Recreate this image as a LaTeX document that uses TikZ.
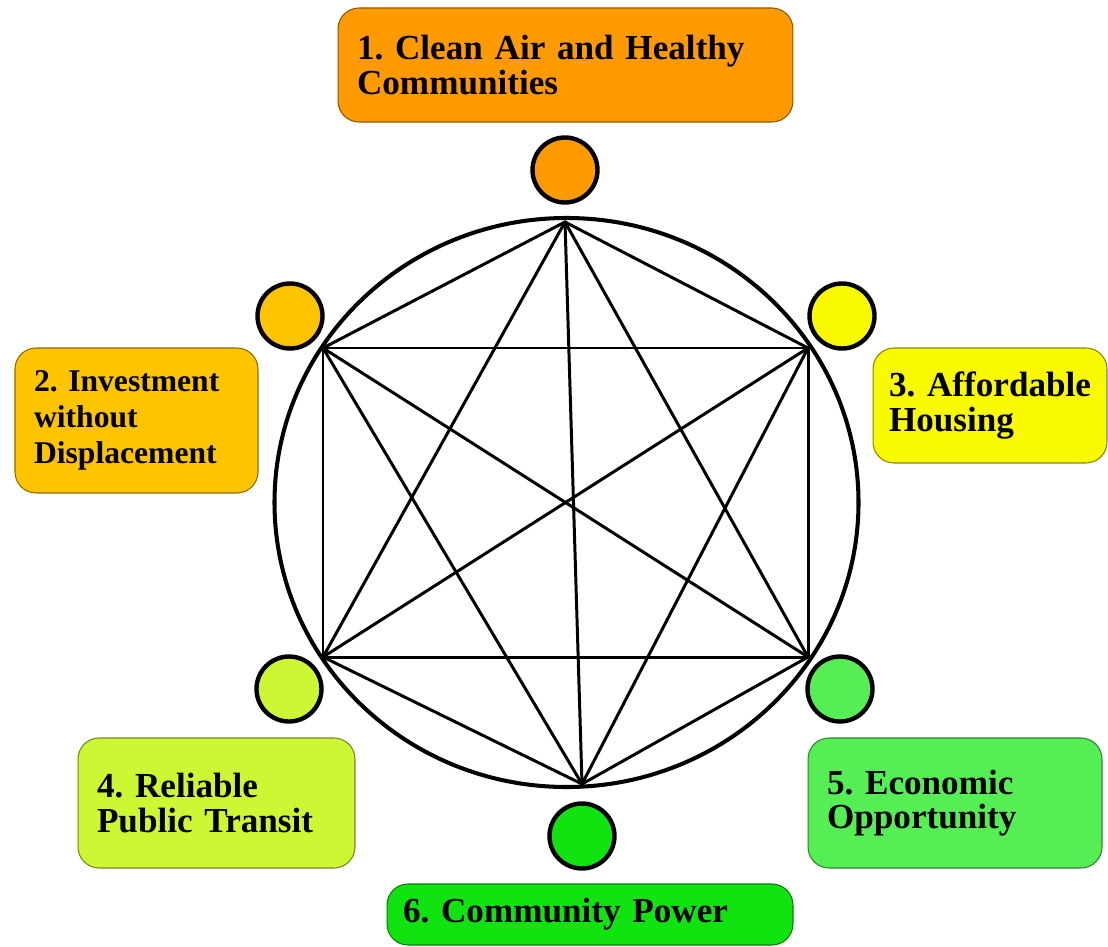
\documentclass[tikz,border=0pt]{standalone}
\usepackage{fontspec}
\setmainfont{Liberation Serif}
\usetikzlibrary{shapes.geometric}
\definecolor{orangeA}{HTML}{FF9A00}
\definecolor{gold}{HTML}{FFC400}
\definecolor{yellowA}{HTML}{F9F900}
\definecolor{lime}{HTML}{CDF733}
\definecolor{greenA}{HTML}{55EE55}
\definecolor{greenB}{HTML}{11E311}
\frenchspacing
\hyphenpenalty=10000
\tikzset{
  goal/.style={draw=#1!55!black, fill=#1, line width=0.6pt, rounded corners=0.42cm,
    inner xsep=0.38cm, inner ysep=0pt, align=left,
    font=\bfseries\fontsize{20pt}{19.6pt}\selectfont},
  dot/.style={circle, draw=black, fill=#1, line width=2.5pt, minimum size=1.3cm, inner sep=0pt}
}
\begin{document}
\begin{tikzpicture}[line cap=round,line join=round,x=0.02cm,y=-0.02cm]
  \useasboundingbox (0,0) rectangle (1108,946);
  % corners of the star
  \coordinate (v1) at (565,222);
  \coordinate (v2) at (323,348);
  \coordinate (v3) at (808,348);
  \coordinate (v4) at (323,657);
  \coordinate (v5) at (808,657);
  \coordinate (v6) at (582,784);
  \draw [line width=2.3pt] (566.5,502.5) ellipse [x radius=292, y radius=284.5];
  \draw [line width=1.7pt] (v1) -- (v2);
  \draw [line width=1.7pt] (v1) -- (v3);
  \draw [line width=1.7pt] (v1) -- (v4);
  \draw [line width=1.7pt] (v1) -- (v5);
  \draw [line width=1.7pt] (v1) -- (v6);
  \draw [line width=1.7pt] (v2) -- (v3);
  \draw [line width=1.7pt] (v2) -- (v4);
  \draw [line width=1.7pt] (v2) -- (v5);
  \draw [line width=1.7pt] (v2) -- (v6);
  \draw [line width=1.7pt] (v3) -- (v4);
  \draw [line width=1.7pt] (v3) -- (v5);
  \draw [line width=1.7pt] (v3) -- (v6);
  \draw [line width=1.7pt] (v4) -- (v5);
  \draw [line width=1.7pt] (v4) -- (v6);
  \draw [line width=1.7pt] (v5) -- (v6);
  % small dots
  \node [dot=orangeA] (c1) at (565,170) {};
  \node [dot=gold] (c2) at (290,316) {};
  \node [dot=yellowA] (c3) at (842,316) {};
  \node [dot=lime] (c4) at (289,689) {};
  \node [dot=greenA] (c5) at (840,689) {};
  \node [dot=greenB] (c6) at (582,836) {};
  % goal boxes
  \node [goal=orangeA, text width=8.34cm, minimum height=2.28cm] (g1) at (565.5,65)
    {1.~Clean Air and Healthy\\Communities};
  \node [goal=gold, text width=4.1cm, minimum height=2.9cm,
    font=\bfseries\fontsize{18pt}{20.4pt}\selectfont] (g2) at (136.5,420.5)
    {2.~Investment\\without\\Displacement};
  \node [goal=yellowA, inner xsep=0.32cm, text width=4.04cm, minimum height=2.3cm] (g3) at (990,405.5)
    {3.~Affordable\\Housing};
  \node [goal=lime, text width=4.78cm, minimum height=2.6cm] (g4) at (216.5,803)
    {4.~Reliable\\Public Transit};
  \node [goal=greenA, text width=5.12cm, minimum height=2.6cm] (g5) at (955,803)
    {5.~Economic\\Opportunity};
  \node [goal=greenB, inner xsep=0.32cm, text width=7.48cm, minimum height=1.22cm] (g6) at (590,914.5)
    {6.~Community Power};
\end{tikzpicture}
\end{document}
